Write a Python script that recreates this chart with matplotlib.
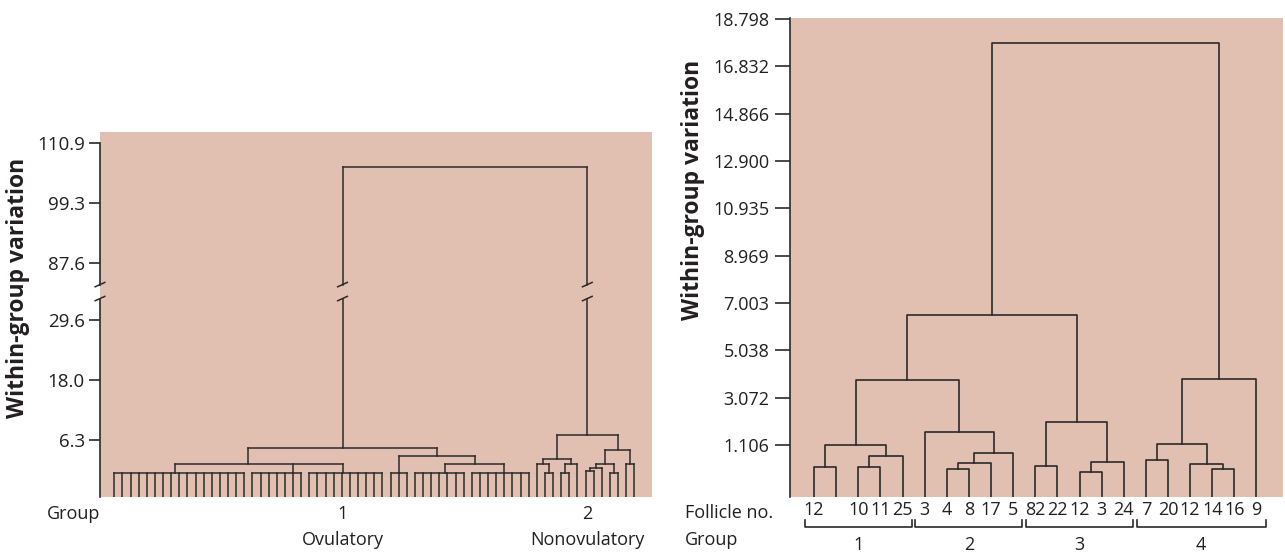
import numpy as np
import matplotlib
matplotlib.use('Agg')
import matplotlib.pyplot as plt
from matplotlib.transforms import blended_transform_factory

plt.rcParams['font.family'] = ['Open Sans', 'DejaVu Sans']

BG = '#e1c0b2'
INK = '#231f20'
LINE = '#2a2a2a'

# ──────────────────────────────────────────────
# Left panel: ovulatory vs nonovulatory (broken y axis)
# ──────────────────────────────────────────────
L_TICKS = [6.3, 18.0, 29.6, 87.6, 99.3, 110.9]
L_TICKLABELS = ['6.3', '18.0', '29.6', '87.6', '99.3', '110.9']
BREAK_LO, BREAK_HI = 29.6, 87.6
SQUEEZE = 0.194          # how much the 29.6..87.6 stretch is compressed
L_YMIN, L_YMAX = -4.77, 113.05
N_LEFT = 65

# group 1 is drawn as flat "rakes" of leaves (size, height, leaf index where it joins)
RAKE_SIZES = [17, 7, 10, 3, 7, 8]
RAKE_HEIGHTS = [0.0, 0.0, 0.0, 0.0, 0.0, 0.0]
RAKE_ANCHORS = [7.5, 22.0, 28.2, 35.0, 40.7, 48.0]

# merges: name, children, height, anchor (None = middle of children)
LEFT_NAMES = ['A', 'B', 'C', 'G1', 'a', 'b', 'c', 'd', 'e', 'f', 'g', 'h', 'i', 'j', 'k', 'G2', 'root']
LEFT_CHILDREN = [['r0', 'r1', 'r2'], ['r4', 'r5'], ['r3', 'B'], ['A', 'C'],
                 [53, 54], [52, 'a'], [55, 56], ['c', 57], ['b', 'd'],
                 [58, 59], ['f', 60], [61, 62], ['g', 'h'], [63, 64], ['i', 'j'],
                 ['e', 'k'], ['G1', 'G2']]
LEFT_HEIGHTS = [1.64, 1.64, 3.25, 4.75, 0.0, 1.58, 0.0, 1.58, 2.61,
                0.34, 0.80, 0.0, 1.58, 1.58, 4.36, 7.33, 106.26]
LEFT_ANCHORS = [16.5] + [None] * 16

LEFT_GROUPS = ['1', '2']
LEFT_GROUP_NODES = ['G1', 'G2']
LEFT_GROUP_NAMES = ['Ovulatory', 'Nonovulatory']

# ──────────────────────────────────────────────
# Right panel: follicles in four groups
# ──────────────────────────────────────────────
R_TICKS = [1.106, 3.072, 5.038, 7.003, 8.969, 10.935, 12.900, 14.866, 16.832, 18.798]
R_TICKLABELS = ['1.106', '3.072', '5.038', '7.003', '8.969', '10.935',
                '12.900', '14.866', '16.832', '18.798']
R_YMIN, R_YMAX = -1.05, 18.83
FOLLICLES = ['12', '', '10', '11', '25', '3', '4', '8', '17', '5',
             '82', '22', '12', '3', '24', '7', '20', '12', '14', '16', '9']
# linkage rows: left child, right child, height (ids >= 21 are earlier merges)
R_LEFT = [0, 2, 22, 21, 6, 25, 26, 5, 24, 10, 12, 31, 30, 29, 15, 18, 17, 35, 38, 34]
R_RIGHT = [1, 3, 4, 23, 7, 8, 9, 27, 28, 11, 13, 14, 32, 33, 16, 19, 36, 37, 20, 39]
R_HEIGHT = [0.194, 0.194, 0.650, 1.106, 0.112, 0.360, 0.775, 1.645, 3.799,
            0.236, 0.0, 0.402, 2.059, 6.492, 0.485, 0.112, 0.319, 1.147, 3.841, 17.80]
R_GROUPS = ['1', '2', '3', '4']
R_GROUP_FIRST = [0, 5, 10, 15]
R_GROUP_LAST = [4, 9, 14, 20]


def fwd(v):
    """Map a value onto the broken left axis."""
    if v <= BREAK_LO:
        return v
    if v >= BREAK_HI:
        return v - BREAK_HI + BREAK_LO + (BREAK_HI - BREAK_LO) * SQUEEZE
    return BREAK_LO + (v - BREAK_LO) * SQUEEZE


GAP = (33.87, 36.59)   # hole in the lines at the break (axis units)


def slash(ax, x, y, dx, dy):
    ax.plot([x - dx, x + dx], [y - dy, y + dy], color=LINE, lw=1.1,
            clip_on=False, solid_capstyle='butt')


def vline(ax, x, y0, y1, gap=None, sl=None):
    lo, hi = min(y0, y1), max(y0, y1)
    if gap and lo < gap[0] and hi > gap[1]:
        ax.plot([x, x], [lo, gap[0]], color=LINE, lw=1.1)
        ax.plot([x, x], [gap[1], hi], color=LINE, lw=1.1)
        slash(ax, x, gap[0], *sl)
        slash(ax, x, gap[1], *sl)
    else:
        ax.plot([x, x], [lo, hi], color=LINE, lw=1.1)


fig = plt.figure(figsize=(12.85, 5.52), dpi=100)

# ---------------- left ----------------
axL = fig.add_axes([100 / 1285, 55 / 552, 552 / 1285, 365 / 552])
axL.set_facecolor(BG)
xl0, xl1 = -1.76, 66.18
axL.set_xlim(xl0, xl1)
axL.set_ylim(L_YMIN, fwd(L_YMAX))
sl = (0.68, 0.49)

pos = {}
start = 0
for k, (size, h, anc) in enumerate(zip(RAKE_SIZES, RAKE_HEIGHTS, RAKE_ANCHORS)):
    first, last = start, start + size - 1
    axL.plot([first, last], [fwd(h), fwd(h)], color=LINE, lw=1.1)
    for i in range(first, last + 1):
        vline(axL, i, L_YMIN, fwd(h))
    pos['r%d' % k] = (anc, fwd(h))
    start += size
for i in range(start, N_LEFT):
    pos[i] = (float(i), L_YMIN)

for name, kids, h, anc in zip(LEFT_NAMES, LEFT_CHILDREN, LEFT_HEIGHTS, LEFT_ANCHORS):
    y = fwd(h)
    xs = [pos[c][0] for c in kids]
    axL.plot([min(xs), max(xs)], [y, y], color=LINE, lw=1.1)
    for c in kids:
        vline(axL, pos[c][0], pos[c][1], y, GAP, sl)
    pos[name] = (anc if anc is not None else (min(xs) + max(xs)) / 2, y)

for s in axL.spines.values():
    s.set_visible(False)
# left axis line with its own break
axL.plot([xl0, xl0], [L_YMIN, GAP[0]], color=LINE, lw=1.2, clip_on=False)
axL.plot([xl0, xl0], [GAP[1], fwd(110.9)], color=LINE, lw=1.2, clip_on=False)
slash(axL, xl0, GAP[0], *sl)
slash(axL, xl0, GAP[1], *sl)
axL.set_yticks([fwd(t) for t in L_TICKS])
axL.set_yticklabels(L_TICKLABELS)
axL.set_xticks([])
axL.tick_params(axis='y', length=8, width=1.2, color=LINE, pad=3,
                labelsize=13.5, labelcolor=INK)

trL = blended_transform_factory(axL.transData, axL.transAxes)
for lab, node, nm in zip(LEFT_GROUPS, LEFT_GROUP_NODES, LEFT_GROUP_NAMES):
    axL.text(pos[node][0], -0.047, lab, transform=trL, ha='center', va='center',
             fontsize=13, color=INK)
    axL.text(pos[node][0], -0.118, nm, transform=trL, ha='center', va='center',
             fontsize=13, color=INK)
fig.text(47 / 1285, 1 - 514 / 552, 'Group', ha='left', va='center', fontsize=13, color=INK)
fig.text(18 / 1285, 1 - 288 / 552, 'Within-group variation', rotation=90,
         ha='center', va='center', fontsize=16.5, fontweight='bold', color=INK)

# ---------------- right ----------------
axR = fig.add_axes([790 / 1285, 55 / 552, 493 / 1285, 479 / 552])
axR.set_facecolor(BG)
axR.set_xlim(-1.09, 21.2)
axR.set_ylim(R_YMIN, R_YMAX)

n = len(FOLLICLES)
rpos = {i: (float(i), R_YMIN) for i in range(n)}
for k, (a, b, h) in enumerate(zip(R_LEFT, R_RIGHT, R_HEIGHT)):
    xa, ya = rpos[a]
    xb, yb = rpos[b]
    axR.plot([xa, xa, xb, xb], [ya, h, h, yb], color=LINE, lw=1.2)
    rpos[n + k] = ((xa + xb) / 2, h)

for side in ['top', 'right', 'bottom']:
    axR.spines[side].set_visible(False)
axR.spines['left'].set_color(LINE)
axR.spines['left'].set_linewidth(1.2)
axR.set_yticks(R_TICKS)
axR.set_yticklabels(R_TICKLABELS)
axR.set_xticks([])
axR.tick_params(axis='y', length=11, width=1.2, color=LINE, pad=4,
                labelsize=13, labelcolor=INK)

trR = blended_transform_factory(axR.transData, axR.transAxes)
for i, lab in enumerate(FOLLICLES):
    axR.text(i, -0.027, lab, transform=trR, ha='center', va='center',
             fontsize=13, color=INK)
for g, a, b in zip(R_GROUPS, R_GROUP_FIRST, R_GROUP_LAST):
    x0, x1 = a - 0.42, b + 0.42
    axR.plot([x0, x0, x1, x1], [-0.048, -0.0626, -0.0626, -0.048], transform=trR,
             color=LINE, lw=1.2, clip_on=False)
    axR.text((x0 + x1) / 2, -0.100, g, transform=trR, ha='center', va='center',
             fontsize=13, color=INK)
fig.text(685 / 1285, 1 - 513 / 552, 'Follicle no.', ha='left', va='center',
         fontsize=13, color=INK)
fig.text(685 / 1285, 1 - 540 / 552, 'Group', ha='left', va='center',
         fontsize=13, color=INK)
fig.text(693 / 1285, 1 - 190 / 552, 'Within-group variation', rotation=90,
         ha='center', va='center', fontsize=16.5, fontweight='bold', color=INK)

fig.savefig('out.png', dpi=100, facecolor='white')
